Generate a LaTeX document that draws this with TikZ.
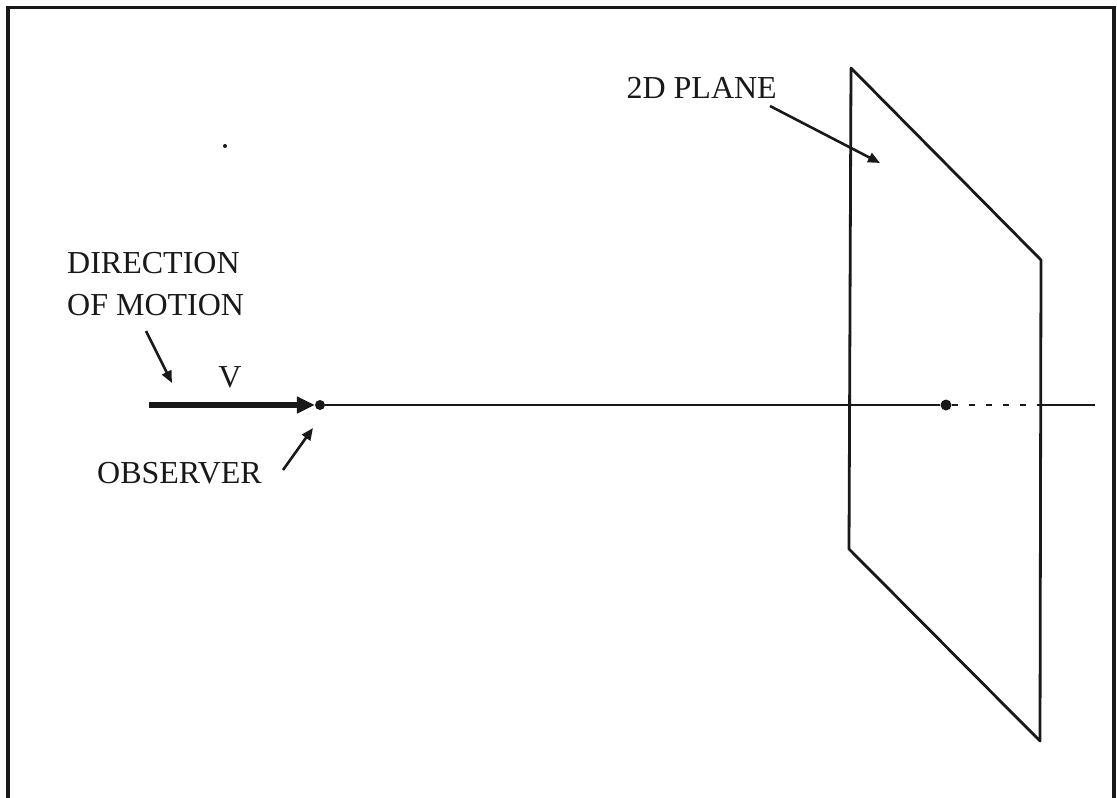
\documentclass[tikz,border=0pt]{standalone}
\usepackage{fontspec}
\setmainfont{Liberation Serif}
\usetikzlibrary{arrows.meta}
\tikzset{
  frame/.style={line width=3.2pt, black!90},
  lbl/.style={font=\fontsize{32}{36}\selectfont, inner sep=0pt, text=black!90},
  thinline/.style={line width=2.5pt, black!90},
  planeline/.style={line width=2.8pt, black!90, line join=round},
  ptr/.style={line width=2.6pt, black!90, -{Triangle[length=12pt,width=10pt]}},
  velarrow/.style={line width=5.5pt, black!90, -{Triangle[length=18pt,width=16pt]}},
  dotnode/.style={circle, fill=black!90, inner sep=0pt, minimum size=#1},
  dashseg/.style={line width=2.8pt, black!90, dash pattern=on 6pt off 11pt}
}
\begin{document}
\begin{tikzpicture}[x=1pt,y=-1pt]
\useasboundingbox (0,0) rectangle (1117,798);
\fill[white] (0,0) rectangle (1117,798);
% frame
\draw[frame] (8,805) -- (8,7.5) -- (1114,7.5) -- (1114,805);
% texts
\node[lbl, anchor=base west] (dir) at (67,273) {DIRECTION};
\node[lbl, anchor=base west] (mot) at (67,315) {OF MOTION};
\node[lbl, anchor=base] (v) at (230,387) {V};
\node[lbl, anchor=base west] (obsl) at (97,483) {OBSERVER};
\node[lbl, anchor=base east] (pl) at (777,98) {2D PLANE};
% stray dot
\node[dotnode=4pt] (stray) at (225,146) {};
% plane
\coordinate (p1) at (851,68);
\coordinate (p2) at (1041,260);
\coordinate (p3) at (1040,741);
\coordinate (p4) at (849,549);
\draw[planeline] (p1) -- (p2) -- (p3) -- (p4) -- cycle;
% axis
\node[dotnode=10pt] (obs) at (320,405) {};
\node[dotnode=11pt] (vp) at (946,405) {};
\coordinate (vstart) at (149,405);
\coordinate (pr) at (1041,405);
\coordinate (axend) at (1095,405);
\draw[thinline] (obs) -- (vp);
\draw[dashseg] (vp.east) -- (pr);
\draw[thinline] (pr) -- (axend);
\draw[velarrow] (vstart) -- (obs.west);
% pointer arrows
\coordinate (dirA) at (146,331);
\coordinate (dirB) at (172,383);
\draw[ptr] (dirA) -- (dirB);
\coordinate (obsA) at (283,470);
\coordinate (obsB) at (313,428);
\draw[ptr] (obsA) -- (obsB);
\coordinate (plA) at (770,106);
\coordinate (plB) at (880,163);
\draw[ptr] (plA) -- (plB);
\end{tikzpicture}
\end{document}
